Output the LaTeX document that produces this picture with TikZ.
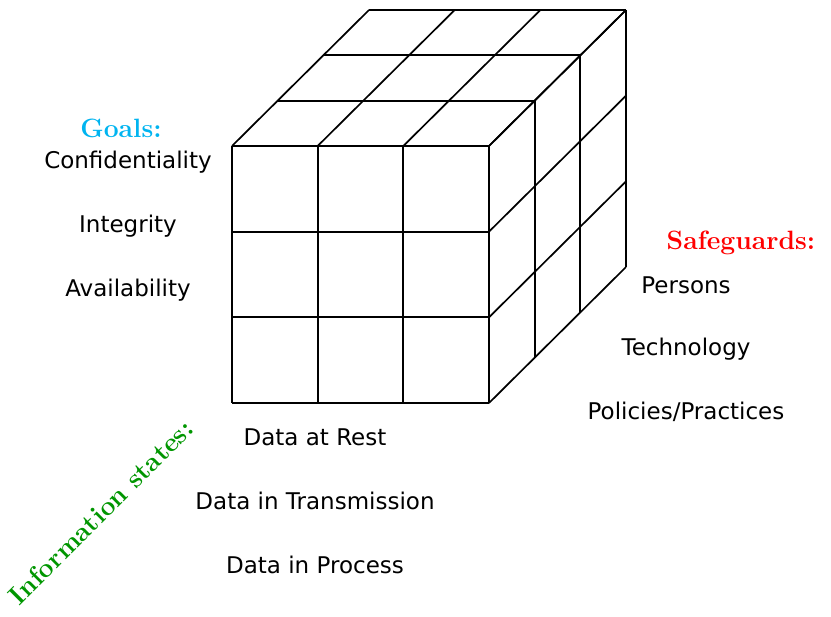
\documentclass[tikz,border=0pt]{standalone}
\usepackage{fontspec}
\setsansfont{DejaVu Sans}
\definecolor{goalc}{RGB}{0,180,240}
\definecolor{safec}{RGB}{255,0,0}
\definecolor{infoc}{RGB}{0,150,0}
\begin{document}
\begin{tikzpicture}[x=1pt,y=-1pt,
  cubeline/.style={line width=1.7pt,line join=round},
  item/.style={font=\sffamily\fontsize{23}{27}\selectfont,inner sep=0pt,anchor=center},
  head/.style={font=\bfseries\fontsize{26.5}{30}\selectfont,inner sep=0pt,anchor=center}]
\useasboundingbox (0,0) rectangle (831,617);
\def\cs{85.67}
\def\dx{45.67}
\def\dy{45.33}
% front face
\foreach \i in {0,1,2,3}{
  \draw[cubeline] (232+\i*\cs,146) -- (232+\i*\cs,403);
  \draw[cubeline] (232,146+\i*\cs) -- (489,146+\i*\cs);
}
% top face
\foreach \k in {1,2,3}{
  \draw[cubeline] (232+\k*\dx,146-\k*\dy) -- (489+\k*\dx,146-\k*\dy);
}
\foreach \i in {0,1,2,3}{
  \draw[cubeline] (232+\i*\cs,146) -- (232+\i*\cs+3*\dx,146-3*\dy);
}
% right face
\foreach \k in {1,2,3}{
  \draw[cubeline] (489+\k*\dx,146-\k*\dy) -- (489+\k*\dx,403-\k*\dy);
}
\foreach \j in {0,1,2,3}{
  \draw[cubeline] (489,146+\j*\cs) -- (489+3*\dx,146+\j*\cs-3*\dy);
}
% labels
\node[head,text=goalc] (goals) at (121,128) {Goals:};
\node[item] (conf) at (128,162) {Confidentiality};
\node[item] (integ) at (128,226) {Integrity};
\node[item] (avail) at (128,290) {Availability};
\node[head,text=safec] (safe) at (741,243) {Safeguards:};
\node[item] (pers) at (686,285) {Persons};
\node[item] (tech) at (686,349) {Technology};
\node[item] (pol) at (686,412) {Policies/Practices};
\node[head,text=infoc,rotate=45] (info) at (101,512) {Information states:};
\node[item] (rest) at (315,437) {Data at Rest};
\node[item] (trans) at (315,501) {Data in Transmission};
\node[item] (proc) at (315,565) {Data in Process};
\end{tikzpicture}
\end{document}
